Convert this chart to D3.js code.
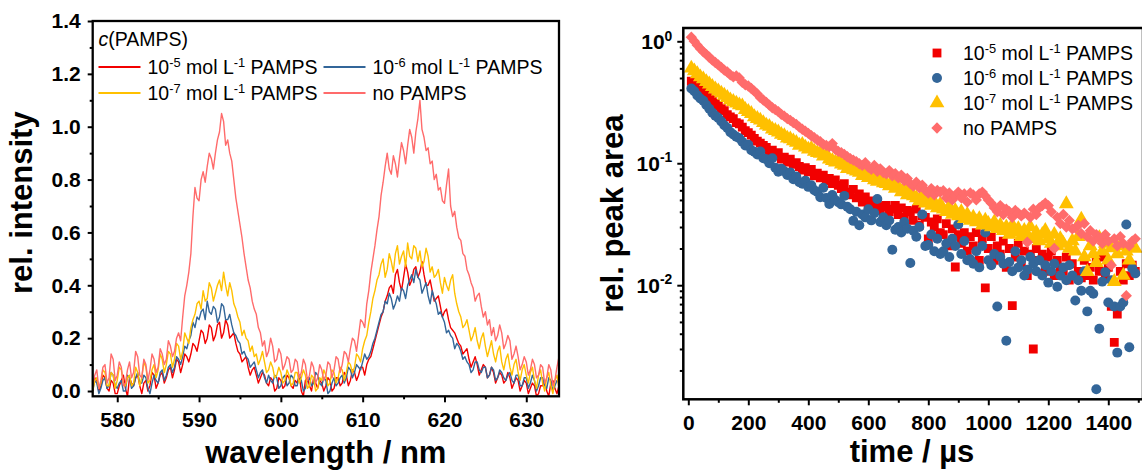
<!DOCTYPE html>
<html><head><meta charset="utf-8">
<script src="https://cdn.jsdelivr.net/npm/d3@7"></script>
<style>
body{margin:0;background:#fff}
svg{display:block}
text{font-family:"Liberation Sans",Arial,Helvetica,sans-serif}
</style>
</head><body>
<svg id="c" width="1142" height="471"></svg>
<script>
// ---------------- DATA ----------------
// Left panel: emission spectra (rel. intensity vs wavelength / nm)
const wavelengthNm = [
577,577.25,577.5,577.75,578,578.25,578.5,578.75,579,579.25,579.5,579.75,580,580.25,580.5,580.75,581,581.25,581.5,581.75,
582,582.25,582.5,582.75,583,583.25,583.5,583.75,584,584.25,584.5,584.75,585,585.25,585.5,585.75,586,586.25,586.5,586.75,
587,587.25,587.5,587.75,588,588.25,588.5,588.75,589,589.25,589.5,589.75,590,590.25,590.5,590.75,591,591.25,591.5,591.75,
592,592.25,592.5,592.75,593,593.25,593.5,593.75,594,594.25,594.5,594.75,595,595.25,595.5,595.75,596,596.25,596.5,596.75,
597,597.25,597.5,597.75,598,598.25,598.5,598.75,599,599.25,599.5,599.75,600,600.25,600.5,600.75,601,601.25,601.5,601.75,
602,602.25,602.5,602.75,603,603.25,603.5,603.75,604,604.25,604.5,604.75,605,605.25,605.5,605.75,606,606.25,606.5,606.75,
607,607.25,607.5,607.75,608,608.25,608.5,608.75,609,609.25,609.5,609.75,610,610.25,610.5,610.75,611,611.25,611.5,611.75,
612,612.25,612.5,612.75,613,613.25,613.5,613.75,614,614.25,614.5,614.75,615,615.25,615.5,615.75,616,616.25,616.5,616.75,
617,617.25,617.5,617.75,618,618.25,618.5,618.75,619,619.25,619.5,619.75,620,620.25,620.5,620.75,621,621.25,621.5,621.75,
622,622.25,622.5,622.75,623,623.25,623.5,623.75,624,624.25,624.5,624.75,625,625.25,625.5,625.75,626,626.25,626.5,626.75,
627,627.25,627.5,627.75,628,628.25,628.5,628.75,629,629.25,629.5,629.75,630,630.25,630.5,630.75,631,631.25,631.5,631.75,
632,632.25,632.5,632.75,633,633.25,633.5,633.75,634];
const spec_1e5 = [
0.01,0.05,0.04,0.00,0.02,0.06,0.05,0.01,0.00,0.04,0.03,-0.01,-0.01,0.02,0.04,0.06,0.01,-0.02,0.05,0.03,
0.02,0.05,0.06,0.02,-0.01,0.03,0.04,0.00,0.02,0.07,0.06,0.01,0.03,0.06,0.07,0.03,0.05,0.08,0.09,0.05,
0.08,0.12,0.11,0.07,0.10,0.14,0.13,0.11,0.14,0.18,0.17,0.15,0.19,0.23,0.22,0.18,0.20,0.25,0.24,0.19,
0.21,0.25,0.26,0.20,0.22,0.27,0.25,0.20,0.21,0.22,0.18,0.15,0.14,0.11,0.12,0.13,0.09,0.06,0.08,0.09,
0.06,0.03,0.05,0.07,0.06,0.03,0.02,0.05,0.04,0.00,0.01,0.05,0.04,0.01,0.02,0.06,0.05,0.02,0.01,0.04,
0.03,0.06,0.00,-0.02,0.04,0.05,0.02,0.00,0.05,0.03,0.01,0.04,0.03,0.00,0.02,0.05,0.04,0.00,0.01,0.05,
0.05,0.02,0.03,0.07,0.06,0.02,0.04,0.08,0.07,0.04,0.06,0.09,0.09,0.06,0.10,0.12,0.13,0.16,0.19,0.22,
0.25,0.28,0.30,0.34,0.36,0.39,0.40,0.37,0.44,0.46,0.41,0.38,0.43,0.48,0.45,0.40,0.42,0.46,0.47,0.43,
0.45,0.49,0.44,0.40,0.40,0.42,0.38,0.34,0.35,0.36,0.32,0.28,0.30,0.31,0.27,0.24,0.23,0.22,0.20,0.18,
0.17,0.14,0.15,0.16,0.12,0.09,0.11,0.13,0.10,0.06,0.08,0.10,0.09,0.05,0.06,0.09,0.07,0.03,0.05,0.07,
0.06,0.03,0.04,0.07,0.05,0.01,0.03,0.05,0.04,0.00,0.02,0.04,0.03,-0.01,0.01,0.03,0.02,-0.02,-0.01,0.02,
0.02,0.04,0.00,-0.02,0.03,0.04,0.01,-0.01,0.02];
const spec_1e6 = [
0.00,0.04,0.03,-0.01,0.01,0.04,0.05,0.01,0.02,0.07,0.06,0.02,0.01,0.03,0.04,0.00,0.00,0.06,0.05,0.01,
0.02,0.05,0.07,0.03,0.03,0.06,0.05,0.01,-0.01,0.03,0.06,0.04,0.03,0.07,0.08,0.04,0.06,0.09,0.10,0.07,
0.09,0.13,0.12,0.10,0.13,0.17,0.16,0.19,0.21,0.26,0.24,0.28,0.27,0.30,0.31,0.27,0.34,0.30,0.29,0.32,
0.31,0.26,0.28,0.33,0.32,0.27,0.27,0.29,0.25,0.22,0.21,0.19,0.18,0.14,0.15,0.13,0.12,0.09,0.10,0.11,
0.08,0.05,0.07,0.08,0.05,0.03,0.06,0.04,0.03,0.06,0.05,0.01,0.02,0.05,0.06,0.02,0.03,0.06,0.05,0.02,
0.02,0.06,0.04,0.00,0.01,0.04,0.05,0.02,0.03,0.07,0.06,0.03,0.02,0.05,0.04,-0.01,0.00,0.03,0.05,0.02,
0.03,0.05,0.06,0.03,0.05,0.09,0.08,0.05,0.07,0.10,0.09,0.08,0.11,0.14,0.12,0.13,0.15,0.18,0.20,0.23,
0.26,0.29,0.30,0.34,0.33,0.37,0.35,0.31,0.33,0.36,0.34,0.39,0.38,0.35,0.40,0.42,0.44,0.41,0.46,0.43,
0.42,0.37,0.39,0.41,0.36,0.33,0.38,0.35,0.33,0.29,0.30,0.28,0.26,0.22,0.23,0.21,0.20,0.16,0.18,0.17,
0.15,0.12,0.13,0.11,0.10,0.07,0.08,0.11,0.11,0.08,0.07,0.09,0.09,0.05,0.06,0.09,0.08,0.04,0.05,0.08,
0.07,0.05,0.04,0.06,0.07,0.04,0.03,0.06,0.06,0.02,0.02,0.05,0.05,0.01,0.03,0.06,0.04,0.00,0.02,0.05,
0.05,0.02,0.01,0.05,0.04,0.00,0.02,0.04,0.03];
const spec_1e7 = [
0.00,0.04,0.05,0.01,0.03,0.08,0.07,0.02,0.02,0.07,0.06,0.01,0.04,0.09,0.08,0.03,0.02,0.05,0.06,0.02,
0.03,0.09,0.07,0.02,0.05,0.11,0.09,0.03,0.04,0.08,0.10,0.05,0.08,0.14,0.12,0.07,0.10,0.15,0.14,0.09,
0.12,0.18,0.17,0.12,0.15,0.22,0.20,0.18,0.24,0.27,0.29,0.33,0.34,0.31,0.38,0.34,0.35,0.41,0.39,0.34,
0.37,0.40,0.42,0.38,0.45,0.40,0.36,0.41,0.38,0.33,0.31,0.28,0.26,0.21,0.23,0.20,0.19,0.15,0.17,0.13,
0.14,0.10,0.12,0.15,0.11,0.07,0.08,0.11,0.09,0.05,0.06,0.09,0.07,0.03,0.04,0.08,0.06,0.02,0.03,0.07,
0.07,0.03,0.05,0.08,0.06,0.01,0.02,0.06,0.05,0.00,0.01,0.05,0.04,0.08,0.06,0.02,0.03,0.08,0.07,0.03,
0.05,0.09,0.08,0.04,0.07,0.11,0.10,0.07,0.09,0.14,0.13,0.11,0.16,0.19,0.21,0.26,0.30,0.35,0.38,0.42,
0.44,0.48,0.50,0.43,0.46,0.52,0.49,0.45,0.52,0.55,0.48,0.51,0.53,0.47,0.56,0.51,0.50,0.55,0.54,0.49,
0.53,0.47,0.49,0.54,0.51,0.45,0.47,0.43,0.44,0.46,0.41,0.37,0.43,0.40,0.38,0.42,0.44,0.37,0.33,0.30,
0.28,0.24,0.25,0.27,0.23,0.19,0.21,0.24,0.19,0.16,0.20,0.22,0.17,0.13,0.16,0.19,0.14,0.11,0.15,0.17,
0.11,0.08,0.12,0.14,0.09,0.06,0.10,0.12,0.07,0.04,0.08,0.10,0.06,0.03,0.07,0.09,0.04,0.01,0.06,0.08,
0.03,0.00,0.05,0.07,0.02,-0.01,0.04,0.06,0.01];
const spec_none = [
0.02,0.06,0.08,0.01,0.04,0.09,0.10,0.03,0.05,0.14,0.12,0.04,0.06,0.11,0.09,0.02,0.03,0.08,0.11,0.05,
0.07,0.15,0.13,0.06,0.05,0.12,0.10,0.04,0.08,0.14,0.12,0.07,0.09,0.16,0.14,0.10,0.12,0.19,0.17,0.13,
0.15,0.20,0.22,0.19,0.28,0.36,0.40,0.45,0.52,0.66,0.77,0.73,0.72,0.80,0.83,0.79,0.85,0.90,0.88,0.84,
0.90,0.95,0.98,1.05,1.02,0.93,0.95,0.90,0.87,0.80,0.73,0.68,0.63,0.58,0.52,0.47,0.42,0.39,0.34,0.31,
0.29,0.24,0.22,0.17,0.19,0.13,0.15,0.20,0.17,0.11,0.12,0.16,0.14,0.08,0.10,0.13,0.12,0.07,0.08,0.12,
0.11,0.05,0.07,0.12,0.10,0.04,0.06,0.11,0.09,0.03,0.05,0.10,0.08,0.04,0.06,0.11,0.10,0.05,0.08,0.13,
0.12,0.07,0.10,0.15,0.14,0.11,0.16,0.20,0.19,0.15,0.21,0.27,0.26,0.24,0.33,0.38,0.45,0.50,0.55,0.61,
0.66,0.74,0.79,0.85,0.90,0.84,0.82,0.89,0.86,0.81,0.88,0.94,0.91,0.86,0.93,0.99,0.96,0.90,0.98,1.03,
1.10,0.99,0.96,0.91,0.92,0.86,0.87,0.80,0.82,0.76,0.77,0.72,0.71,0.78,0.84,0.70,0.66,0.68,0.62,0.58,
0.57,0.52,0.51,0.46,0.44,0.41,0.39,0.34,0.36,0.37,0.32,0.28,0.30,0.25,0.27,0.21,0.24,0.19,0.21,0.25,
0.22,0.16,0.18,0.21,0.19,0.12,0.14,0.17,0.13,0.08,0.10,0.13,0.11,0.06,0.08,0.12,0.10,0.05,0.06,0.10,
0.09,0.03,0.05,0.10,0.08,0.02,0.04,0.09,0.13];

// Right panel: decay of rel. peak area vs time / µs
const timeUs = [
10,20,30,40,50,60,70,80,90,100,
110,120,130,140,150,160,170,180,190,200,
210,220,230,240,250,260,270,280,290,300,
310,320,330,340,350,360,370,380,390,400,
410,420,430,440,450,460,470,480,490,500,
510,520,530,540,550,560,570,580,590,600,
610,620,630,640,650,660,670,680,690,700,
710,720,730,740,750,760,770,780,790,800,
810,820,830,840,850,860,870,880,890,900,
910,920,930,940,950,960,970,980,990,1000,
1010,1020,1030,1040,1050,1060,1070,1080,1090,1100,
1110,1120,1130,1140,1150,1160,1170,1180,1190,1200,
1210,1220,1230,1240,1250,1260,1270,1280,1290,1300,
1310,1320,1330,1340,1350,1360,1370,1380,1390,1400,
1410,1420,1430,1440,1450,1460,1470,1480,1490];
const area_1e5 = [
0.47,0.45,0.42,0.40,0.38,0.36,0.345,0.33,0.31,0.295,
0.28,0.27,0.25,0.24,0.232,0.215,0.21,0.198,0.185,0.178,
0.17,0.16,0.152,0.146,0.14,0.135,0.125,0.128,0.118,0.122,
0.108,0.112,0.102,0.108,0.098,0.101,0.094,0.088,0.092,0.085,
0.089,0.079,0.083,0.076,0.08,0.072,0.075,0.068,0.073,0.066,
0.062,0.068,0.058,0.055,0.061,0.052,0.056,0.048,0.053,0.046,
0.049,0.043,0.047,0.041,0.044,0.045,0.04,0.042,0.045,0.038,
0.043,0.036,0.041,0.04,0.034,0.042,0.031,0.037,0.036,0.024,
0.033,0.03,0.035,0.027,0.026,0.032,0.021,0.029,0.0141,0.026,
0.022,0.027,0.019,0.025,0.021,0.027,0.016,0.024,0.0095,0.02,
0.025,0.016,0.021,0.018,0.023,0.014,0.02,0.0068,0.017,0.022,
0.015,0.019,0.012,0.018,0.003,0.02,0.016,0.018,0.013,0.017,
0.019,0.012,0.016,0.014,0.013,0.017,0.011,0.015,0.012,0.013,
0.0115,0.016,0.012,0.014,0.011,0.016,0.013,0.017,0.012,0.014,
0.0067,0.0034,0.0058,0.013,0.011,0.015,0.012,0.0146,0.013];
const area_1e6 = [
0.41,0.39,0.36,0.34,0.325,0.30,0.28,0.26,0.245,0.235,
0.22,0.205,0.195,0.18,0.172,0.165,0.16,0.15,0.14,0.142,
0.128,0.124,0.118,0.125,0.11,0.108,0.1,0.11,0.092,0.085,
0.09,0.086,0.08,0.084,0.074,0.078,0.07,0.068,0.072,0.064,
0.066,0.06,0.058,0.0526,0.063,0.052,0.0464,0.055,0.05,0.048,
0.046,0.054,0.044,0.042,0.0337,0.04,0.031,0.038,0.036,0.042,
0.034,0.039,0.051,0.033,0.036,0.031,0.034,0.0195,0.0285,0.03,
0.027,0.033,0.029,0.0152,0.028,0.025,0.03,0.038,0.021,0.0214,
0.026,0.019,0.024,0.018,0.019,0.022,0.017,0.024,0.021,0.0315,
0.018,0.023,0.016,0.0163,0.015,0.019,0.014,0.021,0.027,0.016,
0.0146,0.018,0.0067,0.017,0.015,0.0035,0.0155,0.013,0.019,0.014,
0.016,0.012,0.0134,0.017,0.015,0.013,0.016,0.012,0.0146,0.0105,
0.013,0.015,0.0097,0.012,0.014,0.011,0.0146,0.012,0.0075,0.011,
0.009,0.013,0.0061,0.009,0.0085,0.0014,0.0044,0.0107,0.0128,0.0072,
0.011,0.0067,0.0028,0.0067,0.0072,0.0315,0.0031,0.0137,0.0125];
const area_1e7 = [
0.6,0.57,0.54,0.51,0.49,0.465,0.445,0.425,0.405,0.39,
0.375,0.36,0.345,0.33,0.32,0.31,0.3,0.295,0.275,0.265,
0.255,0.24,0.232,0.225,0.215,0.205,0.2,0.19,0.185,0.18,
0.172,0.168,0.16,0.158,0.152,0.148,0.14,0.142,0.135,0.13,
0.132,0.125,0.122,0.12,0.114,0.118,0.108,0.105,0.102,0.104,
0.098,0.096,0.09,0.093,0.088,0.086,0.084,0.079,0.081,0.076,
0.078,0.073,0.071,0.075,0.069,0.068,0.065,0.072,0.062,0.064,
0.058,0.062,0.055,0.058,0.054,0.052,0.049,0.055,0.047,0.05,
0.045,0.048,0.043,0.046,0.042,0.04,0.044,0.038,0.041,0.037,
0.04,0.035,0.038,0.034,0.036,0.033,0.035,0.031,0.034,0.032,
0.03,0.033,0.029,0.031,0.028,0.03,0.026,0.031,0.027,0.029,
0.025,0.028,0.026,0.03,0.024,0.027,0.023,0.026,0.028,0.024,
0.022,0.026,0.021,0.024,0.022,0.0464,0.02,0.023,0.019,0.025,
0.0347,0.017,0.0129,0.021,0.018,0.0153,0.0245,0.019,0.022,0.016,
0.0202,0.0107,0.018,0.021,0.012,0.019,0.016,0.0205,0.02];
const area_none = [
1.08,1.0,0.93,0.87,0.82,0.78,0.74,0.7,0.67,0.64,
0.61,0.58,0.56,0.53,0.51,0.52,0.5,0.46,0.44,0.43,
0.41,0.39,0.37,0.345,0.33,0.315,0.3,0.285,0.275,0.265,
0.252,0.243,0.232,0.225,0.215,0.208,0.198,0.19,0.183,0.176,
0.168,0.162,0.155,0.15,0.143,0.14,0.137,0.145,0.13,0.125,
0.122,0.118,0.113,0.109,0.106,0.103,0.099,0.096,0.101,0.093,
0.089,0.096,0.086,0.09,0.084,0.082,0.087,0.079,0.082,0.076,
0.08,0.072,0.075,0.068,0.065,0.07,0.063,0.066,0.06,0.057,
0.062,0.055,0.06,0.058,0.0596,0.052,0.057,0.05,0.054,0.058,
0.052,0.056,0.048,0.057,0.055,0.05,0.056,0.058,0.054,0.05,
0.047,0.043,0.04,0.045,0.038,0.042,0.04,0.036,0.041,0.039,
0.037,0.039,0.0225,0.036,0.042,0.038,0.043,0.045,0.047,0.045,
0.04,0.02,0.036,0.032,0.038,0.03,0.034,0.029,0.0295,0.031,
0.0265,0.032,0.025,0.028,0.023,0.026,0.024,0.022,0.026,0.023,
0.0146,0.024,0.021,0.025,0.022,0.0082,0.021,0.023,0.024];

// Ticks / labels
const leftYTicks = [0,0.2,0.4,0.6,0.8,1.0,1.2,1.4];
const leftYMinor = [0.1,0.3,0.5,0.7,0.9,1.1,1.3];
const leftXTicks = [580,590,600,610,620,630];
const leftXMinor = [585,595,605,615,625];
const rightXTicks = [0,200,400,600,800,1000,1200,1400];
const rightXMinor = [100,300,500,700,900,1100,1300,1500];
const rightYTicks = [1,0.1,0.01];
const rightYExp = ["0","-1","-2"];
const rightYMinor = [0.002,0.003,0.004,0.005,0.006,0.007,0.008,0.009,
                     0.02,0.03,0.04,0.05,0.06,0.07,0.08,0.09,
                     0.2,0.3,0.4,0.5,0.6,0.7,0.8,0.9];
const seriesExp = ["-5","-6","-7",null];
const seriesColors = ["#F20000","#336699","#FFC000","#FF6B6B"];

// ---------------- DRAW ----------------
const svg = d3.select("#c");
const TF = 21, TITLE = 31, LEG = 19.5;

function styleAxis(g){
  g.select(".domain").remove();
  g.selectAll("line").attr("stroke","#000").attr("stroke-width",2);
  g.selectAll("text").attr("font-size",TF).attr("font-weight","bold").attr("fill","#000")
    .attr("font-family",'"Liberation Sans",Arial,sans-serif');
}
function legendText(t, e){
  if(e===null){ t.text("no PAMPS"); return; }
  t.append("tspan").text("10");
  t.append("tspan").attr("font-size","0.66em").attr("dy","-0.55em").text(e);
  t.append("tspan").attr("dy","0.363em").text(" mol L");
  t.append("tspan").attr("font-size","0.66em").attr("dy","-0.55em").text("-1");
  t.append("tspan").attr("dy","0.363em").text(" PAMPS");
}

// ===== LEFT PANEL =====
const L = {x0:92.7, x1:559, y0:21, y1:396.3};
const xL = d3.scaleLinear().domain([577,634]).range([L.x0,L.x1]);
const yL = d3.scaleLinear().domain([-0.02,1.4]).range([L.y1,L.y0]);

svg.append("clipPath").attr("id","clipL").append("rect")
  .attr("x",L.x0).attr("y",L.y0).attr("width",L.x1-L.x0).attr("height",L.y1-L.y0);

const specSeries = [spec_1e5, spec_1e6, spec_1e7, spec_none];
const lineL = d3.line().x((d,i)=>xL(wavelengthNm[i])).y(d=>yL(d));
const gLines = svg.append("g").attr("clip-path","url(#clipL)");
specSeries.forEach((s,k)=>{
  gLines.append("path").datum(s).attr("d",lineL)
    .attr("fill","none").attr("stroke",seriesColors[k]).attr("stroke-width",1.4)
    .attr("stroke-linejoin","round");
});

svg.append("g").attr("transform",`translate(${L.x0},0)`)
  .call(d3.axisLeft(yL).tickValues(leftYTicks).tickSize(5).tickPadding(7).tickFormat(d3.format(".1f")))
  .call(styleAxis);
svg.append("g").attr("transform",`translate(${L.x0},0)`)
  .call(d3.axisLeft(yL).tickValues(leftYMinor).tickSize(3).tickFormat(""))
  .call(styleAxis);
svg.append("g").attr("transform",`translate(0,${L.y1})`)
  .call(d3.axisBottom(xL).tickValues(leftXTicks).tickSize(6).tickPadding(10).tickFormat(d3.format("d")))
  .call(styleAxis);
svg.append("g").attr("transform",`translate(0,${L.y1})`)
  .call(d3.axisBottom(xL).tickValues(leftXMinor).tickSize(3).tickFormat(""))
  .call(styleAxis);
svg.append("rect").attr("x",L.x0).attr("y",L.y0).attr("width",L.x1-L.x0).attr("height",L.y1-L.y0)
  .attr("fill","none").attr("stroke","#000").attr("stroke-width",2.3);

svg.append("text").attr("transform",`translate(32,${(L.y0+L.y1)/2-6}) rotate(-90)`)
  .attr("text-anchor","middle").attr("font-size",TITLE).attr("font-weight","bold").text("rel. intensity");
svg.append("text").attr("x",(L.x0+L.x1)/2).attr("y",463)
  .attr("text-anchor","middle").attr("font-size",TITLE).attr("font-weight","bold").text("wavelength / nm");

const legL = svg.append("g").attr("font-size",LEG);
legL.append("text").attr("x",98.5).attr("y",46)
  .call(t=>{t.append("tspan").attr("font-style","italic").text("c"); t.append("tspan").text("(PAMPS)");});
const legPos = [[98.5,67],[323.5,67],[98.5,93],[323.5,93]];
seriesExp.forEach((e,k)=>{
  const [lx,ly] = legPos[k];
  legL.append("line").attr("x1",lx).attr("x2",lx+42).attr("y1",ly).attr("y2",ly)
    .attr("stroke",seriesColors[k]).attr("stroke-width",1.8);
  legendText(legL.append("text").attr("x",lx+49).attr("y",ly+6.8), e);
});

// ===== RIGHT PANEL =====
const R = {x0:683.3, x1:1143, y0:28, y1:399.3};
const xR = d3.scaleLinear().domain([-16.7,1515.7]).range([R.x0,R.x1]);
const yR = d3.scaleLog().domain([0.00116,1.285]).range([R.y1,R.y0]);

svg.append("clipPath").attr("id","clipR").append("rect")
  .attr("x",R.x0).attr("y",R.y0).attr("width",R.x1-R.x0).attr("height",R.y1-R.y0);

const areaSeries = [area_1e5, area_1e6, area_1e7, area_none];
const symTypes = [d3.symbolSquare, d3.symbolCircle, d3.symbolTriangle, d3.symbolSquare];
const symSizes = [78, 78, 95, 64];
const symRot = [0,0,0,45];
const gPts = svg.append("g").attr("clip-path","url(#clipR)");
areaSeries.forEach((s,k)=>{
  const sym = d3.symbol().type(symTypes[k]).size(symSizes[k]);
  gPts.append("g").selectAll("path").data(s).join("path")
    .attr("d",sym)
    .attr("transform",(d,i)=>`translate(${xR(timeUs[i])},${yR(d)}) rotate(${symRot[k]})`)
    .attr("fill",seriesColors[k]);
});

svg.append("g").attr("transform",`translate(${R.x0},0)`)
  .call(d3.axisLeft(yR).tickValues(rightYTicks).tickSize(6).tickFormat(""))
  .call(styleAxis);
svg.append("g").attr("transform",`translate(${R.x0},0)`)
  .call(d3.axisLeft(yR).tickValues(rightYMinor).tickSize(3.5).tickFormat(""))
  .call(styleAxis);
rightYTicks.forEach((v,i)=>{
  const t = svg.append("text").attr("x",R.x0-11).attr("y",yR(v)).attr("dy","0.36em")
    .attr("text-anchor","end").attr("font-size",TF).attr("font-weight","bold");
  t.append("tspan").text("10");
  t.append("tspan").attr("font-size","0.66em").attr("dy","-0.6em").text(rightYExp[i]);
});
svg.append("g").attr("transform",`translate(0,${R.y1})`)
  .call(d3.axisBottom(xR).tickValues(rightXTicks).tickSize(6).tickPadding(9.5).tickFormat(d3.format("d")))
  .call(styleAxis);
svg.append("g").attr("transform",`translate(0,${R.y1})`)
  .call(d3.axisBottom(xR).tickValues(rightXMinor).tickSize(3.5).tickFormat(""))
  .call(styleAxis);
svg.append("rect").attr("x",R.x0).attr("y",R.y0).attr("width",R.x1-R.x0).attr("height",R.y1-R.y0)
  .attr("fill","none").attr("stroke","#000").attr("stroke-width",2.5);

svg.append("text").attr("transform",`translate(623,${(R.y0+R.y1)/2}) rotate(-90)`)
  .attr("text-anchor","middle").attr("font-size",TITLE).attr("font-weight","bold").text("rel. peak area");
svg.append("text").attr("x",912).attr("y",462)
  .attr("text-anchor","middle").attr("font-size",TITLE).attr("font-weight","bold").text("time / µs");

const legR = svg.append("g").attr("font-size",LEG);
const legRY = [53,78,103,128];
seriesExp.forEach((e,k)=>{
  const sym = d3.symbol().type(symTypes[k]).size(symSizes[k]);
  legR.append("path").attr("d",sym)
    .attr("transform",`translate(937,${legRY[k]}) rotate(${symRot[k]})`).attr("fill",seriesColors[k]);
  legendText(legR.append("text").attr("x",963).attr("y",legRY[k]+6.8), e);
});
</script>
</body></html>
